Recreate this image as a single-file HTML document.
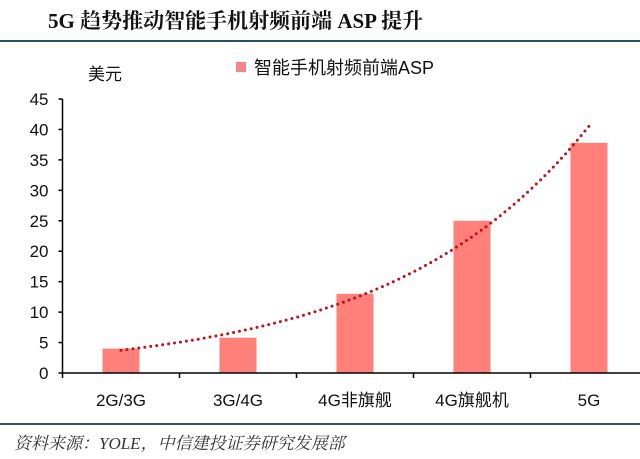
<!DOCTYPE html>
<html><head><meta charset="utf-8"><style>
body{margin:0;background:#fff;width:640px;height:459px;overflow:hidden}
svg{display:block}
</style></head><body>
<svg width="640" height="459" xmlns="http://www.w3.org/2000/svg">
<text x="48" y="28" font-family="'Liberation Serif','Noto Serif CJK SC',serif" font-weight="bold" font-size="21" fill="#111">5G 趋势推动智能手机射频前端 ASP 提升</text>
<rect x="0" y="40" width="640" height="2" fill="#2f5060"/>
<text x="88" y="80" font-family="'Liberation Sans','Noto Sans CJK SC',sans-serif" font-size="17" fill="#111">美元</text>
<rect x="236" y="62" width="10" height="10" fill="#f4868a"/>
<text x="254" y="74" font-family="'Liberation Sans','Noto Sans CJK SC',sans-serif" font-size="18" fill="#111">智能手机射频前端ASP</text>
<g id="plot"></g>
<rect x="0" y="423" width="640" height="2" fill="#2f5060"/>
<text x="14" y="449" font-family="'Liberation Serif','Noto Serif CJK SC',serif" font-style="italic" font-size="17" fill="#333">资料来源：YOLE，中信建投证券研究发展部</text>
</svg>
<script>
const categories=["2G/3G","3G/4G","4G非旗舰","4G旗舰机","5G"];
const values=[4,5.8,13,25,37.8];
const yTicks=[0,5,10,15,20,25,30,35,40,45];
const NS="http://www.w3.org/2000/svg";
const g=document.getElementById("plot");
const x0=62.5,xEnd=640,y0=373,yTop=99,yMax=45;
const bw=117;
const yS=v=>y0-(v/yMax)*(y0-yTop);
const xC=i=>x0+bw*(i+0.5);
function mk(t,a){const e=document.createElementNS(NS,t);for(const k in a)e.setAttribute(k,a[k]);g.appendChild(e);return e;}
const font="'Liberation Sans','Noto Sans CJK SC',sans-serif";
values.forEach((v,i)=>{
 const r=mk("rect",{x:xC(i)-18.5,y:yS(v),width:37,height:y0-yS(v),fill:"#ff7f7b"});
 
 
});
const n=values.length;let sx=0,sy=0,sxy=0,sxx=0;
values.forEach((v,i)=>{const X=i+1,Y=Math.log(v);sx+=X;sy+=Y;sxy+=X*Y;sxx+=X*X;});
const b=(n*sxy-sx*sy)/(n*sxx-sx*sx),a=(sy-b*sx)/n;
let d="";for(let k=0;k<=40;k++){const X=1+4*k/40;const px=xC(X-1),py=yS(Math.exp(a+b*X));d+=(k?"L":"M")+px.toFixed(1)+","+py.toFixed(1);}
const tl=mk("path",{d:d,fill:"none",stroke:"#c0101a","stroke-width":3,"stroke-dasharray":"0 6","stroke-linecap":"round"});


const ya=mk("line",{x1:x0,y1:yTop,x2:x0,y2:y0,stroke:"#000","stroke-width":1.5});


yTicks.forEach(t=>{
 const tk=mk("line",{x1:x0-4,y1:yS(t),x2:x0,y2:yS(t),stroke:"#000","stroke-width":1.5});
 
 
 const tx=mk("text",{x:x0-14,y:yS(t)+6,"text-anchor":"end","font-family":font,"font-size":17,fill:"#111"});
 tx.textContent=t;
 
 
});
const xa=mk("line",{x1:x0,y1:y0,x2:xEnd,y2:y0,stroke:"#000","stroke-width":1.5});


for(let i=0;i<categories.length;i++){
 const tk=mk("line",{x1:x0+bw*i,y1:y0,x2:x0+bw*i,y2:y0+5,stroke:"#000","stroke-width":1.5});
 
 
}
categories.forEach((c,i)=>{
 const tx=mk("text",{x:xC(i),y:y0+33,"text-anchor":"middle","font-family":font,"font-size":17,fill:"#111"});
 tx.textContent=c;
 
 
});
</script>
</body></html>
